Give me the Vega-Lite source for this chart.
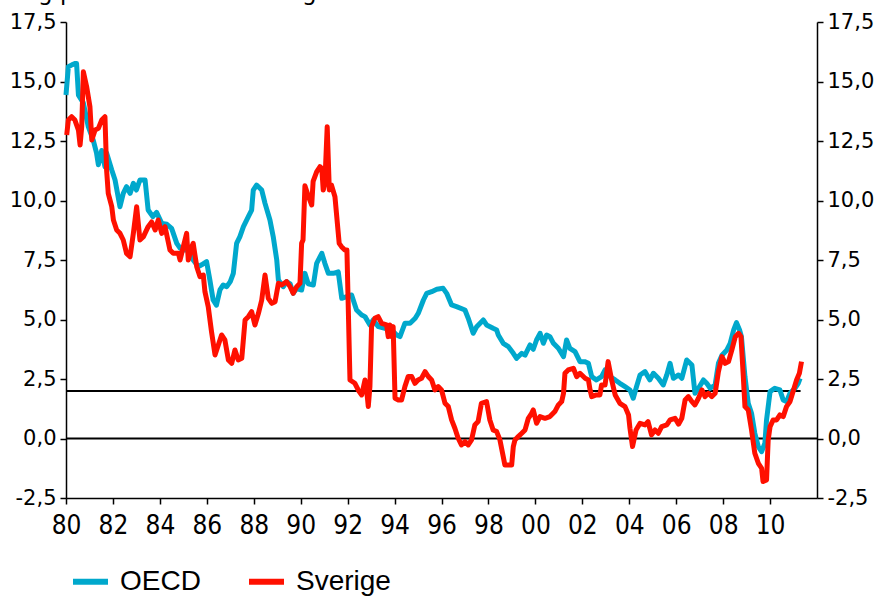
{
  "$schema": "https://vega.github.io/schema/vega-lite/v6.json",
  "width": 751,
  "height": 476,
  "autosize": {"type": "none"},
  "padding": {"left": 66, "top": 22, "right": 64, "bottom": 99},
  "background": "white",
  "title": {
    "text": "Årlig procentuell förändring",
    "anchor": "start",
    "frame": "group",
    "font": "DejaVu Sans",
    "fontSize": 23,
    "fontWeight": "normal",
    "color": "black",
    "baseline": "alphabetic",
    "offset": -12,
    "dx": -66
  },
  "config": {
    "view": {"stroke": null},
    "axis": {
      "grid": false,
      "domainColor": "black",
      "domainWidth": 1.5,
      "tickColor": "black",
      "tickWidth": 1.5,
      "tickSize": 6,
      "labelColor": "black",
      "title": null
    },
    "legend": {
      "orient": "none",
      "legendX": 4,
      "legendY": 539,
      "direction": "horizontal",
      "title": null,
      "symbolType": "stroke",
      "symbolSize": 1225,
      "symbolStrokeWidth": 6,
      "labelFont": "Liberation Sans",
      "labelFontSize": 28,
      "labelColor": "black",
      "labelOffset": 9,
      "columnPadding": 36,
      "padding": 0
    }
  },
  "datasets": {
    "series": [
      {"s":"OECD","t":1980.0,"v":14.43},{"s":"OECD","t":1980.1,"v":15.62},{"s":"OECD","t":1980.25,"v":15.7},{"s":"OECD","t":1980.4,"v":15.76},{"s":"OECD","t":1980.45,"v":15.76},{"s":"OECD","t":1980.53,"v":14.43},{"s":"OECD","t":1980.74,"v":14.1},{"s":"OECD","t":1980.95,"v":13.1},
      {"s":"OECD","t":1981.16,"v":12.54},{"s":"OECD","t":1981.3,"v":12.0},{"s":"OECD","t":1981.38,"v":11.5},{"s":"OECD","t":1981.52,"v":12.1},{"s":"OECD","t":1981.66,"v":11.42},{"s":"OECD","t":1981.73,"v":12.0},{"s":"OECD","t":1981.95,"v":11.28},
      {"s":"OECD","t":1982.09,"v":10.86},{"s":"OECD","t":1982.3,"v":9.74},{"s":"OECD","t":1982.44,"v":10.3},{"s":"OECD","t":1982.58,"v":10.58},{"s":"OECD","t":1982.73,"v":10.3},{"s":"OECD","t":1982.87,"v":10.72},
      {"s":"OECD","t":1983.0,"v":10.44},{"s":"OECD","t":1983.15,"v":10.86},{"s":"OECD","t":1983.37,"v":10.86},{"s":"OECD","t":1983.5,"v":9.6},{"s":"OECD","t":1983.7,"v":9.32},{"s":"OECD","t":1983.86,"v":9.5},
      {"s":"OECD","t":1984.08,"v":9.04},{"s":"OECD","t":1984.3,"v":9.0},{"s":"OECD","t":1984.5,"v":8.83},{"s":"OECD","t":1984.72,"v":8.2},{"s":"OECD","t":1984.86,"v":8.0},
      {"s":"OECD","t":1985.0,"v":7.92},{"s":"OECD","t":1985.2,"v":7.92},{"s":"OECD","t":1985.42,"v":7.5},{"s":"OECD","t":1985.64,"v":7.22},{"s":"OECD","t":1985.78,"v":7.3},{"s":"OECD","t":1985.99,"v":7.43},
      {"s":"OECD","t":1986.13,"v":6.66},{"s":"OECD","t":1986.27,"v":5.82},{"s":"OECD","t":1986.41,"v":5.6},{"s":"OECD","t":1986.56,"v":6.24},{"s":"OECD","t":1986.7,"v":6.45},{"s":"OECD","t":1986.85,"v":6.38},
      {"s":"OECD","t":1987.0,"v":6.59},{"s":"OECD","t":1987.13,"v":6.94},{"s":"OECD","t":1987.27,"v":8.2},{"s":"OECD","t":1987.41,"v":8.48},{"s":"OECD","t":1987.56,"v":8.9},{"s":"OECD","t":1987.77,"v":9.32},{"s":"OECD","t":1987.91,"v":9.6},{"s":"OECD","t":1987.98,"v":10.44},
      {"s":"OECD","t":1988.12,"v":10.65},{"s":"OECD","t":1988.34,"v":10.44},{"s":"OECD","t":1988.48,"v":9.88},{"s":"OECD","t":1988.69,"v":9.18},{"s":"OECD","t":1988.83,"v":8.48},{"s":"OECD","t":1988.98,"v":7.5},
      {"s":"OECD","t":1989.05,"v":6.66},{"s":"OECD","t":1989.26,"v":6.38},{"s":"OECD","t":1989.4,"v":6.59},{"s":"OECD","t":1989.55,"v":6.5},{"s":"OECD","t":1989.68,"v":6.1},{"s":"OECD","t":1989.83,"v":6.3},
      {"s":"OECD","t":1990.04,"v":6.24},{"s":"OECD","t":1990.18,"v":6.94},{"s":"OECD","t":1990.32,"v":6.5},{"s":"OECD","t":1990.54,"v":6.45},{"s":"OECD","t":1990.68,"v":7.36},{"s":"OECD","t":1990.9,"v":7.78},
      {"s":"OECD","t":1991.03,"v":7.36},{"s":"OECD","t":1991.18,"v":6.94},{"s":"OECD","t":1991.39,"v":6.94},{"s":"OECD","t":1991.6,"v":7.0},{"s":"OECD","t":1991.75,"v":5.89},{"s":"OECD","t":1991.96,"v":5.96},
      {"s":"OECD","t":1992.17,"v":6.03},{"s":"OECD","t":1992.38,"v":5.4},{"s":"OECD","t":1992.6,"v":5.19},{"s":"OECD","t":1992.74,"v":5.12},{"s":"OECD","t":1992.95,"v":4.77},
      {"s":"OECD","t":1993.09,"v":4.98},{"s":"OECD","t":1993.31,"v":4.7},{"s":"OECD","t":1993.59,"v":4.63},{"s":"OECD","t":1993.88,"v":4.56},
      {"s":"OECD","t":1994.09,"v":4.35},{"s":"OECD","t":1994.23,"v":4.28},{"s":"OECD","t":1994.44,"v":4.84},{"s":"OECD","t":1994.66,"v":4.84},{"s":"OECD","t":1994.88,"v":5.05},
      {"s":"OECD","t":1995.01,"v":5.26},{"s":"OECD","t":1995.23,"v":5.82},{"s":"OECD","t":1995.37,"v":6.1},{"s":"OECD","t":1995.58,"v":6.17},{"s":"OECD","t":1995.8,"v":6.27},
      {"s":"OECD","t":1996.07,"v":6.31},{"s":"OECD","t":1996.22,"v":6.1},{"s":"OECD","t":1996.43,"v":5.61},{"s":"OECD","t":1996.64,"v":5.54},
      {"s":"OECD","t":1997.0,"v":5.4},{"s":"OECD","t":1997.14,"v":5.05},{"s":"OECD","t":1997.35,"v":4.42},{"s":"OECD","t":1997.5,"v":4.7},{"s":"OECD","t":1997.78,"v":4.98},{"s":"OECD","t":1997.92,"v":4.77},
      {"s":"OECD","t":1998.2,"v":4.63},{"s":"OECD","t":1998.35,"v":4.56},{"s":"OECD","t":1998.42,"v":4.35},{"s":"OECD","t":1998.63,"v":4.0},{"s":"OECD","t":1998.85,"v":3.86},
      {"s":"OECD","t":1999.06,"v":3.58},{"s":"OECD","t":1999.2,"v":3.37},{"s":"OECD","t":1999.42,"v":3.58},{"s":"OECD","t":1999.56,"v":3.5},{"s":"OECD","t":1999.77,"v":3.93},{"s":"OECD","t":1999.91,"v":3.75},
      {"s":"OECD","t":2000.05,"v":4.14},{"s":"OECD","t":2000.2,"v":4.42},{"s":"OECD","t":2000.34,"v":4.0},{"s":"OECD","t":2000.48,"v":4.35},{"s":"OECD","t":2000.62,"v":4.28},{"s":"OECD","t":2000.77,"v":4.0},{"s":"OECD","t":2000.98,"v":3.79},
      {"s":"OECD","t":2001.2,"v":3.44},{"s":"OECD","t":2001.33,"v":4.14},{"s":"OECD","t":2001.47,"v":3.79},{"s":"OECD","t":2001.69,"v":3.65},{"s":"OECD","t":2001.9,"v":3.23},
      {"s":"OECD","t":2002.1,"v":3.23},{"s":"OECD","t":2002.26,"v":3.16},{"s":"OECD","t":2002.4,"v":2.6},{"s":"OECD","t":2002.6,"v":2.46},{"s":"OECD","t":2002.82,"v":2.6},{"s":"OECD","t":2002.97,"v":2.88},
      {"s":"OECD","t":2003.18,"v":2.6},{"s":"OECD","t":2003.4,"v":2.46},{"s":"OECD","t":2003.6,"v":2.32},{"s":"OECD","t":2003.82,"v":2.18},
      {"s":"OECD","t":2004.03,"v":2.04},{"s":"OECD","t":2004.17,"v":1.69},{"s":"OECD","t":2004.31,"v":2.18},{"s":"OECD","t":2004.46,"v":2.67},{"s":"OECD","t":2004.67,"v":2.81},{"s":"OECD","t":2004.88,"v":2.46},
      {"s":"OECD","t":2005.03,"v":2.74},{"s":"OECD","t":2005.24,"v":2.53},{"s":"OECD","t":2005.45,"v":2.25},{"s":"OECD","t":2005.6,"v":2.67},{"s":"OECD","t":2005.74,"v":3.16},{"s":"OECD","t":2005.88,"v":2.53},
      {"s":"OECD","t":2006.1,"v":2.67},{"s":"OECD","t":2006.24,"v":2.53},{"s":"OECD","t":2006.45,"v":3.3},{"s":"OECD","t":2006.67,"v":3.09},{"s":"OECD","t":2006.8,"v":1.9},{"s":"OECD","t":2006.95,"v":2.11},
      {"s":"OECD","t":2007.16,"v":2.46},{"s":"OECD","t":2007.3,"v":2.32},{"s":"OECD","t":2007.45,"v":2.11},{"s":"OECD","t":2007.66,"v":2.25},{"s":"OECD","t":2007.8,"v":3.16},{"s":"OECD","t":2007.95,"v":3.5},
      {"s":"OECD","t":2008.16,"v":3.72},{"s":"OECD","t":2008.3,"v":4.0},{"s":"OECD","t":2008.45,"v":4.56},{"s":"OECD","t":2008.57,"v":4.87},{"s":"OECD","t":2008.7,"v":4.56},{"s":"OECD","t":2008.78,"v":4.28},{"s":"OECD","t":2008.93,"v":2.6},
      {"s":"OECD","t":2009.07,"v":1.48},{"s":"OECD","t":2009.21,"v":1.06},{"s":"OECD","t":2009.35,"v":0.22},{"s":"OECD","t":2009.5,"v":-0.34},{"s":"OECD","t":2009.64,"v":-0.55},{"s":"OECD","t":2009.78,"v":-0.2},{"s":"OECD","t":2009.85,"v":0.78},
      {"s":"OECD","t":2010.0,"v":1.97},{"s":"OECD","t":2010.2,"v":2.11},{"s":"OECD","t":2010.42,"v":2.04},{"s":"OECD","t":2010.56,"v":1.62},{"s":"OECD","t":2010.7,"v":1.55},{"s":"OECD","t":2010.85,"v":1.9},
      {"s":"OECD","t":2011.06,"v":2.11},{"s":"OECD","t":2011.2,"v":2.32},{"s":"OECD","t":2011.28,"v":2.53},

      {"s":"Sverige","t":1980.03,"v":12.75},{"s":"Sverige","t":1980.1,"v":13.38},{"s":"Sverige","t":1980.24,"v":13.52},{"s":"Sverige","t":1980.38,"v":13.38},{"s":"Sverige","t":1980.53,"v":12.96},{"s":"Sverige","t":1980.6,"v":12.33},{"s":"Sverige","t":1980.67,"v":13.1},{"s":"Sverige","t":1980.74,"v":15.41},{"s":"Sverige","t":1980.88,"v":14.78},
      {"s":"Sverige","t":1981.02,"v":13.94},{"s":"Sverige","t":1981.1,"v":12.54},{"s":"Sverige","t":1981.24,"v":12.96},{"s":"Sverige","t":1981.38,"v":13.03},{"s":"Sverige","t":1981.52,"v":13.38},{"s":"Sverige","t":1981.66,"v":13.52},{"s":"Sverige","t":1981.73,"v":11.28},{"s":"Sverige","t":1981.8,"v":10.3},{"s":"Sverige","t":1981.95,"v":9.74},
      {"s":"Sverige","t":1982.02,"v":9.18},{"s":"Sverige","t":1982.16,"v":8.76},{"s":"Sverige","t":1982.3,"v":8.62},{"s":"Sverige","t":1982.44,"v":8.34},{"s":"Sverige","t":1982.58,"v":7.78},{"s":"Sverige","t":1982.73,"v":7.64},{"s":"Sverige","t":1982.87,"v":8.62},
      {"s":"Sverige","t":1983.01,"v":9.74},{"s":"Sverige","t":1983.15,"v":8.34},{"s":"Sverige","t":1983.3,"v":8.48},{"s":"Sverige","t":1983.5,"v":8.9},{"s":"Sverige","t":1983.65,"v":9.1},{"s":"Sverige","t":1983.8,"v":8.76},{"s":"Sverige","t":1983.93,"v":9.18},
      {"s":"Sverige","t":1984.08,"v":8.62},{"s":"Sverige","t":1984.22,"v":8.9},{"s":"Sverige","t":1984.43,"v":7.92},{"s":"Sverige","t":1984.57,"v":7.78},{"s":"Sverige","t":1984.79,"v":7.78},{"s":"Sverige","t":1984.86,"v":7.5},
      {"s":"Sverige","t":1985.0,"v":8.06},{"s":"Sverige","t":1985.14,"v":8.62},{"s":"Sverige","t":1985.21,"v":7.5},{"s":"Sverige","t":1985.36,"v":8.06},{"s":"Sverige","t":1985.42,"v":8.2},{"s":"Sverige","t":1985.57,"v":7.22},{"s":"Sverige","t":1985.71,"v":6.8},{"s":"Sverige","t":1985.85,"v":6.87},{"s":"Sverige","t":1985.92,"v":6.17},
      {"s":"Sverige","t":1986.06,"v":5.54},{"s":"Sverige","t":1986.2,"v":4.49},{"s":"Sverige","t":1986.35,"v":3.51},{"s":"Sverige","t":1986.49,"v":3.93},{"s":"Sverige","t":1986.63,"v":4.35},{"s":"Sverige","t":1986.77,"v":4.14},{"s":"Sverige","t":1986.92,"v":3.3},
      {"s":"Sverige","t":1987.06,"v":3.16},{"s":"Sverige","t":1987.2,"v":3.72},{"s":"Sverige","t":1987.34,"v":3.3},{"s":"Sverige","t":1987.49,"v":3.37},{"s":"Sverige","t":1987.63,"v":4.98},{"s":"Sverige","t":1987.77,"v":5.12},{"s":"Sverige","t":1987.91,"v":5.33},
      {"s":"Sverige","t":1988.05,"v":4.77},{"s":"Sverige","t":1988.2,"v":5.26},{"s":"Sverige","t":1988.34,"v":5.82},{"s":"Sverige","t":1988.48,"v":6.87},{"s":"Sverige","t":1988.62,"v":5.89},{"s":"Sverige","t":1988.77,"v":5.68},{"s":"Sverige","t":1988.91,"v":5.75},
      {"s":"Sverige","t":1989.05,"v":6.52},{"s":"Sverige","t":1989.19,"v":6.45},{"s":"Sverige","t":1989.4,"v":6.59},{"s":"Sverige","t":1989.55,"v":6.38},{"s":"Sverige","t":1989.68,"v":6.1},{"s":"Sverige","t":1989.83,"v":6.38},{"s":"Sverige","t":1989.97,"v":6.52},
      {"s":"Sverige","t":1990.04,"v":8.2},{"s":"Sverige","t":1990.1,"v":8.34},{"s":"Sverige","t":1990.18,"v":10.62},{"s":"Sverige","t":1990.32,"v":10.2},{"s":"Sverige","t":1990.47,"v":9.81},{"s":"Sverige","t":1990.53,"v":10.8},{"s":"Sverige","t":1990.68,"v":11.2},{"s":"Sverige","t":1990.82,"v":11.42},{"s":"Sverige","t":1990.9,"v":11.35},{"s":"Sverige","t":1990.96,"v":10.44},
      {"s":"Sverige","t":1991.03,"v":10.72},{"s":"Sverige","t":1991.13,"v":13.1},{"s":"Sverige","t":1991.22,"v":10.44},{"s":"Sverige","t":1991.31,"v":10.65},{"s":"Sverige","t":1991.46,"v":10.16},{"s":"Sverige","t":1991.55,"v":9.18},{"s":"Sverige","t":1991.64,"v":8.2},{"s":"Sverige","t":1991.74,"v":8.06},{"s":"Sverige","t":1991.88,"v":7.92},{"s":"Sverige","t":1991.97,"v":7.92},
      {"s":"Sverige","t":1992.1,"v":2.46},{"s":"Sverige","t":1992.31,"v":2.32},{"s":"Sverige","t":1992.45,"v":2.04},{"s":"Sverige","t":1992.6,"v":1.83},{"s":"Sverige","t":1992.74,"v":2.46},{"s":"Sverige","t":1992.81,"v":2.04},{"s":"Sverige","t":1992.88,"v":1.34},{"s":"Sverige","t":1992.95,"v":2.18},
      {"s":"Sverige","t":1993.02,"v":4.7},{"s":"Sverige","t":1993.16,"v":5.05},{"s":"Sverige","t":1993.3,"v":5.12},{"s":"Sverige","t":1993.45,"v":4.84},{"s":"Sverige","t":1993.66,"v":4.77},{"s":"Sverige","t":1993.73,"v":4.28},{"s":"Sverige","t":1993.8,"v":4.77},{"s":"Sverige","t":1993.88,"v":4.28},{"s":"Sverige","t":1993.94,"v":4.7},
      {"s":"Sverige","t":1994.02,"v":1.69},{"s":"Sverige","t":1994.16,"v":1.62},{"s":"Sverige","t":1994.3,"v":1.62},{"s":"Sverige","t":1994.44,"v":2.18},{"s":"Sverige","t":1994.58,"v":2.6},{"s":"Sverige","t":1994.73,"v":2.6},{"s":"Sverige","t":1994.87,"v":2.32},
      {"s":"Sverige","t":1995.0,"v":2.46},{"s":"Sverige","t":1995.15,"v":2.53},{"s":"Sverige","t":1995.3,"v":2.81},{"s":"Sverige","t":1995.44,"v":2.6},{"s":"Sverige","t":1995.58,"v":2.46},{"s":"Sverige","t":1995.72,"v":2.04},{"s":"Sverige","t":1995.86,"v":2.18},
      {"s":"Sverige","t":1996.0,"v":2.04},{"s":"Sverige","t":1996.15,"v":1.48},{"s":"Sverige","t":1996.29,"v":1.34},{"s":"Sverige","t":1996.43,"v":0.78},{"s":"Sverige","t":1996.57,"v":0.43},{"s":"Sverige","t":1996.71,"v":0.01},{"s":"Sverige","t":1996.85,"v":-0.27},
      {"s":"Sverige","t":1997.0,"v":-0.13},{"s":"Sverige","t":1997.14,"v":-0.27},{"s":"Sverige","t":1997.28,"v":-0.06},{"s":"Sverige","t":1997.42,"v":0.57},{"s":"Sverige","t":1997.56,"v":0.71},{"s":"Sverige","t":1997.7,"v":1.48},{"s":"Sverige","t":1997.92,"v":1.55},
      {"s":"Sverige","t":1998.06,"v":0.78},{"s":"Sverige","t":1998.2,"v":0.36},{"s":"Sverige","t":1998.35,"v":0.29},{"s":"Sverige","t":1998.49,"v":-0.06},{"s":"Sverige","t":1998.63,"v":-0.76},{"s":"Sverige","t":1998.7,"v":-1.11},{"s":"Sverige","t":1998.85,"v":-1.11},{"s":"Sverige","t":1998.99,"v":-1.11},
      {"s":"Sverige","t":1999.06,"v":-0.34},{"s":"Sverige","t":1999.13,"v":-0.06},{"s":"Sverige","t":1999.27,"v":0.08},{"s":"Sverige","t":1999.42,"v":0.22},{"s":"Sverige","t":1999.56,"v":0.36},{"s":"Sverige","t":1999.7,"v":0.85},{"s":"Sverige","t":1999.84,"v":1.06},{"s":"Sverige","t":1999.91,"v":1.2},
      {"s":"Sverige","t":2000.05,"v":0.64},{"s":"Sverige","t":2000.2,"v":0.92},{"s":"Sverige","t":2000.41,"v":0.85},{"s":"Sverige","t":2000.62,"v":0.92},{"s":"Sverige","t":2000.83,"v":1.13},{"s":"Sverige","t":2000.98,"v":1.41},
      {"s":"Sverige","t":2001.12,"v":1.55},{"s":"Sverige","t":2001.2,"v":1.9},{"s":"Sverige","t":2001.26,"v":2.74},{"s":"Sverige","t":2001.4,"v":2.88},{"s":"Sverige","t":2001.62,"v":2.95},{"s":"Sverige","t":2001.76,"v":2.6},{"s":"Sverige","t":2001.9,"v":2.74},
      {"s":"Sverige","t":2002.12,"v":2.53},{"s":"Sverige","t":2002.26,"v":2.46},{"s":"Sverige","t":2002.33,"v":2.04},{"s":"Sverige","t":2002.4,"v":1.76},{"s":"Sverige","t":2002.6,"v":1.83},{"s":"Sverige","t":2002.75,"v":1.83},{"s":"Sverige","t":2002.82,"v":2.25},{"s":"Sverige","t":2002.97,"v":2.25},
      {"s":"Sverige","t":2003.1,"v":3.23},{"s":"Sverige","t":2003.25,"v":2.46},{"s":"Sverige","t":2003.4,"v":1.83},{"s":"Sverige","t":2003.6,"v":1.48},{"s":"Sverige","t":2003.82,"v":1.34},{"s":"Sverige","t":2003.97,"v":0.99},
      {"s":"Sverige","t":2004.03,"v":0.43},{"s":"Sverige","t":2004.14,"v":-0.34},{"s":"Sverige","t":2004.29,"v":0.36},{"s":"Sverige","t":2004.46,"v":0.64},{"s":"Sverige","t":2004.67,"v":0.57},{"s":"Sverige","t":2004.8,"v":0.71},{"s":"Sverige","t":2004.95,"v":0.15},
      {"s":"Sverige","t":2005.1,"v":0.36},{"s":"Sverige","t":2005.24,"v":0.22},{"s":"Sverige","t":2005.38,"v":0.5},{"s":"Sverige","t":2005.6,"v":0.57},{"s":"Sverige","t":2005.74,"v":0.78},{"s":"Sverige","t":2005.95,"v":0.85},
      {"s":"Sverige","t":2006.1,"v":0.6},{"s":"Sverige","t":2006.24,"v":0.85},{"s":"Sverige","t":2006.38,"v":1.62},{"s":"Sverige","t":2006.52,"v":1.76},{"s":"Sverige","t":2006.67,"v":1.55},{"s":"Sverige","t":2006.8,"v":1.41},{"s":"Sverige","t":2006.95,"v":1.69},
      {"s":"Sverige","t":2007.1,"v":2.04},{"s":"Sverige","t":2007.23,"v":1.76},{"s":"Sverige","t":2007.37,"v":1.9},{"s":"Sverige","t":2007.52,"v":1.76},{"s":"Sverige","t":2007.66,"v":1.9},{"s":"Sverige","t":2007.8,"v":2.81},{"s":"Sverige","t":2007.95,"v":3.44},
      {"s":"Sverige","t":2008.09,"v":3.16},{"s":"Sverige","t":2008.23,"v":3.23},{"s":"Sverige","t":2008.37,"v":3.72},{"s":"Sverige","t":2008.52,"v":4.28},{"s":"Sverige","t":2008.66,"v":4.42},{"s":"Sverige","t":2008.76,"v":4.28},{"s":"Sverige","t":2008.86,"v":2.6},{"s":"Sverige","t":2008.93,"v":1.34},
      {"s":"Sverige","t":2009.07,"v":1.2},{"s":"Sverige","t":2009.21,"v":0.36},{"s":"Sverige","t":2009.35,"v":-0.62},{"s":"Sverige","t":2009.5,"v":-1.04},{"s":"Sverige","t":2009.64,"v":-1.25},{"s":"Sverige","t":2009.7,"v":-1.81},{"s":"Sverige","t":2009.85,"v":-1.74},{"s":"Sverige","t":2009.92,"v":-0.06},
      {"s":"Sverige","t":2010.0,"v":0.5},{"s":"Sverige","t":2010.13,"v":0.78},{"s":"Sverige","t":2010.28,"v":0.78},{"s":"Sverige","t":2010.42,"v":0.99},{"s":"Sverige","t":2010.56,"v":0.92},{"s":"Sverige","t":2010.7,"v":1.34},{"s":"Sverige","t":2010.85,"v":1.55},
      {"s":"Sverige","t":2011.0,"v":2.04},{"s":"Sverige","t":2011.13,"v":2.46},{"s":"Sverige","t":2011.25,"v":2.74},{"s":"Sverige","t":2011.34,"v":3.23}
    ],
    "refs": [
      {"level": 0, "from": 1980, "to": 2012},
      {"level": 2, "from": 1980, "to": 2011.3}
    ]
  },
  "layer": [
    {
      "data": {"name": "refs"},
      "mark": {"type": "rule", "color": "black", "strokeWidth": 2},
      "encoding": {
        "y": {
          "field": "level", "type": "quantitative",
          "scale": {"domain": [-2.5, 17.5], "nice": false, "zero": false},
          "axis": {
            "orient": "right",
            "values": [-2.5, 0, 2.5, 5, 7.5, 10, 12.5, 15, 17.5],
            "labelExpr": "replace(replace(format(datum.value, '.1f'), '.', ','), '\u2212', '-')",
            "labelFont": "DejaVu Sans",
            "labelFontSize": 21,
            "labelPadding": 4
          }
        },
        "x": {
          "field": "from", "type": "quantitative",
          "scale": {"domain": [1980, 2012], "nice": false, "zero": false},
          "axis": {
            "values": [1980, 1982, 1984, 1986, 1988, 1990, 1992, 1994, 1996, 1998, 2000, 2002, 2004, 2006, 2008, 2010],
            "labelExpr": "slice(toString(datum.value), 2)",
            "labelFont": "Liberation Sans Narrow, DejaVu Sans Condensed",
            "labelFontSize": 26,
            "labelPadding": 8,
            "labelFlush": false,
            "labelOverlap": false
          }
        },
        "x2": {"field": "to"}
      }
    },
    {
      "data": {"name": "series"},
      "mark": {"type": "line", "strokeWidth": 5, "strokeJoin": "round"},
      "encoding": {
        "x": {
          "field": "t", "type": "quantitative",
          "scale": {"domain": [1980, 2012], "nice": false, "zero": false},
          "axis": {
            "values": [1980, 1982, 1984, 1986, 1988, 1990, 1992, 1994, 1996, 1998, 2000, 2002, 2004, 2006, 2008, 2010],
            "labelExpr": "slice(toString(datum.value), 2)",
            "labelFont": "Liberation Sans Narrow, DejaVu Sans Condensed",
            "labelFontSize": 26,
            "labelPadding": 8,
            "labelFlush": false,
            "labelOverlap": false
          }
        },
        "y": {
          "field": "v", "type": "quantitative",
          "axis": {
            "orient": "left",
            "values": [-2.5, 0, 2.5, 5, 7.5, 10, 12.5, 15, 17.5],
            "labelExpr": "replace(replace(format(datum.value, '.1f'), '.', ','), '\u2212', '-')",
            "labelFont": "DejaVu Sans",
            "labelFontSize": 21,
            "labelPadding": 4
          }
        },
        "color": {
          "field": "s", "type": "nominal",
          "scale": {"domain": ["OECD", "Sverige"], "range": ["#00A8CC", "#FF1000"]},
          "legend": {}
        }
      }
    }
  ],
  "resolve": {"axis": {"y": "independent"}}
}
